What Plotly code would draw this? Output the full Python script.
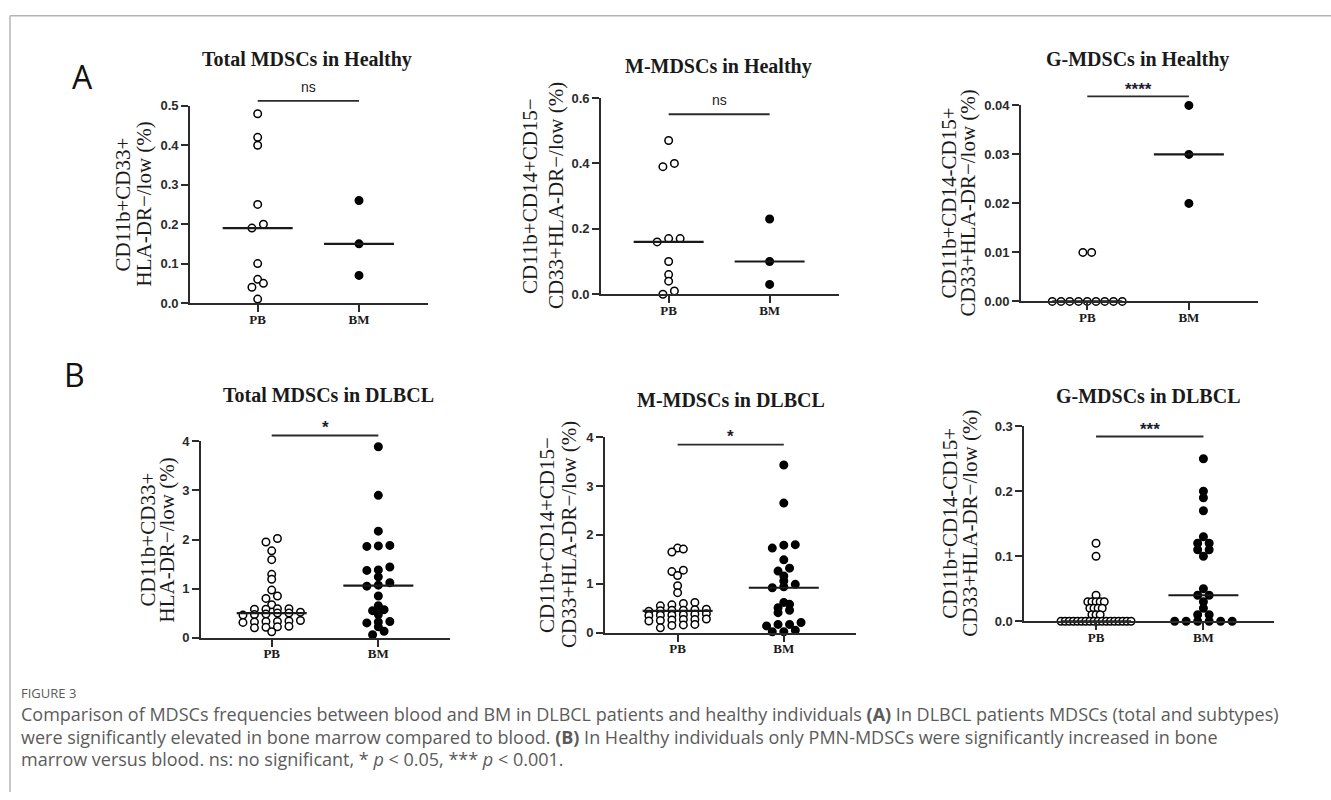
import numpy as np
import plotly.graph_objects as go

W, H = 1331, 800

# ---------------- data ----------------
categories = ["PB", "BM"]

a1_pb = [0.48, 0.42, 0.40, 0.25, 0.20, 0.19, 0.10, 0.06, 0.05, 0.04, 0.01]
a1_bm = [0.26, 0.15, 0.07]

a2_pb = [0.47, 0.40, 0.39, 0.17, 0.17, 0.16, 0.10, 0.06, 0.04, 0.01, 0.00]
a2_bm = [0.23, 0.10, 0.03]

a3_pb = [0.01, 0.01, 0, 0, 0, 0, 0, 0, 0, 0, 0]
a3_bm = [0.04, 0.03, 0.02]

b1_pb = [2.02, 1.95, 1.77, 1.59, 1.29, 1.19, 0.97, 0.85, 0.80, 0.67,
         0.59, 0.59, 0.58, 0.58, 0.52, 0.50, 0.50, 0.48, 0.47, 0.46,
         0.35, 0.34, 0.33, 0.33, 0.32, 0.31, 0.23, 0.22, 0.21, 0.20, 0.12]
b1_bm = [3.89, 2.90, 2.17, 1.88, 1.87, 1.86, 1.44, 1.38, 1.37, 1.24, 1.12,
         1.07, 1.05, 0.85, 0.65, 0.57, 0.55, 0.47, 0.33, 0.32, 0.30, 0.22,
         0.13, 0.06]

b2_pb = [1.73, 1.71, 1.65, 1.28, 1.25, 1.17, 0.96, 0.82, 0.62, 0.60, 0.57,
         0.55, 0.48, 0.47, 0.46, 0.46, 0.45, 0.44, 0.39, 0.38, 0.37, 0.36,
         0.36, 0.35, 0.28, 0.27, 0.27, 0.26, 0.25, 0.24, 0.17, 0.16, 0.15,
         0.10]
b2_bm = [3.43, 2.65, 1.80, 1.79, 1.73, 1.49, 1.32, 1.26, 1.16, 1.06, 0.99,
         0.94, 0.92, 0.62, 0.58, 0.51, 0.46, 0.41, 0.21, 0.17, 0.17, 0.14,
         0.05, 0.02, 0.02]

b3_pb = [0.12, 0.10, 0.04, 0.03, 0.03, 0.03, 0.03, 0.03, 0.02, 0.02, 0.02,
         0.02, 0.01, 0.01, 0.01] + [0.0] * 18
b3_bm = [0.25, 0.20, 0.19, 0.17, 0.13, 0.12, 0.12, 0.11, 0.11, 0.10, 0.05,
         0.04, 0.04, 0.03, 0.02, 0.01, 0.01, 0, 0, 0, 0, 0, 0]

titles = ["Total MDSCs in Healthy", "M-MDSCs in Healthy", "G-MDSCs in Healthy",
          "Total MDSCs in DLBCL", "M-MDSCs in DLBCL", "G-MDSCs in DLBCL"]
ylabels = [("CD11b+CD33+", "HLA-DR−/low (%)"),
           ("CD11b+CD14+CD15−", "CD33+HLA-DR−/low (%)"),
           ("CD11b+CD14-CD15+", "CD33+HLA-DR−/low (%)"),
           ("CD11b+CD33+", "HLA-DR−/low (%)"),
           ("CD11b+CD14+CD15−", "CD33+HLA-DR−/low (%)"),
           ("CD11b+CD14-CD15+", "CD33+HLA-DR−/low (%)")]
significance = ["ns", "ns", "****", "*", "*", "***"]
y_max = [0.5, 0.6, 0.04, 4, 4, 0.3]
y_dtick = [0.1, 0.2, 0.01, 1, 1, 0.1]
y_fmt = [".1f", ".1f", ".2f", "d", "d", ".1f"]
series = [(a1_pb, a1_bm), (a2_pb, a2_bm), (a3_pb, a3_bm),
          (b1_pb, b1_bm), (b2_pb, b2_bm), (b3_pb, b3_bm)]

# ---------------- layout geometry (pixels) ----------------
geom = [
    dict(x=(190, 428), y=(100.7, 301.7), xr=(-0.668, 1.681), lab=(123, 144),
         tt=(307, 53), bar=95.7, st=82, tol=4.5),
    dict(x=(601, 839.3), y=(92.7, 292.7), xr=(-0.67, 1.69), lab=(530, 556),
         tt=(719, 60.5), bar=109.3, st=95, tol=4.5),
    dict(x=(1021, 1258), y=(100.3, 300), xr=(-0.652, 1.68), lab=(949, 968),
         tt=(1137, 53), bar=91, st=81, tol=4.5),
    dict(x=(201, 450), y=(442.7, 642.7), xr=(-0.663, 1.672), lab=(148, 167),
         tt=(328, 395), bar=436.7, st=426, tol=3.8),
    dict(x=(605, 856), y=(438.3, 637.7), xr=(-0.684, 1.68), lab=(547, 569),
         tt=(731, 400.5), bar=446, st=435, tol=3.8),
    dict(x=(1024.3, 1274.3), y=(427.3, 626), xr=(-0.668, 1.66), lab=(950, 970),
         tt=(1148, 396), bar=437.7, st=428, tol=3.8),
]

AX = "#2b2b2b"
SERIF = "Liberation Serif"
SANS = "Liberation Sans"


def pxx(x):
    return x / W


def pxy(y):
    return 1 - y / H


def swarm(vals, ppy, tol, spacing=11.5, max_width=70.0):
    vals = np.asarray(vals, dtype=float)
    order = np.argsort(vals, kind="stable")
    rows, cur, start = [], [], None
    for i in order:
        v = vals[i]
        if cur and (v - start) * ppy < tol:
            cur.append(i)
        else:
            if cur:
                rows.append(cur)
            cur, start = [i], v
    rows.append(cur)
    maxn = max(len(r) for r in rows)
    sp = spacing if maxn <= 1 else min(spacing, max_width / (maxn - 1))
    off = np.zeros(len(vals))
    for r in rows:
        n = len(r)
        for k, i in enumerate(r):
            off[i] = (k - (n - 1) / 2) * sp
    return off


fig = go.Figure()
annotations = []
shapes = []
layout = {}

for i in range(6):
    g = geom[i]
    n = "" if i == 0 else str(i + 1)
    xref, yref = "x" + n, "y" + n
    ppx = (g["x"][1] - g["x"][0]) / (g["xr"][1] - g["xr"][0])
    ppy = (g["y"][1] - g["y"][0]) / y_max[i]

    for ci, vals in enumerate(series[i]):
        off = swarm(vals, ppy, g["tol"])
        xs = ci + off / ppx
        fig.add_trace(go.Scatter(
            x=xs, y=vals, mode="markers", xaxis=xref, yaxis=yref,
            showlegend=False, cliponaxis=False, hoverinfo="skip",
            marker=dict(symbol="circle", size=7.5,
                        color="white" if ci == 0 else "black",
                        line=dict(color="black", width=1.5))))
    for ci, vals in enumerate(series[i]):
        med = float(np.median(vals))
        hw = 35 / ppx
        fig.add_trace(go.Scatter(
            x=[ci - hw, ci + hw], y=[med, med], mode="lines",
            xaxis=xref, yaxis=yref, showlegend=False, cliponaxis=False,
            hoverinfo="skip", line=dict(color="#1a1a1a", width=2.2)))

    layout["xaxis" + n] = dict(
        domain=[pxx(g["x"][0]), pxx(g["x"][1])], range=list(g["xr"]),
        anchor=yref, showgrid=False, zeroline=False, showline=True,
        linecolor=AX, linewidth=1.8, ticks="outside", ticklen=7,
        tickwidth=1.8, tickcolor=AX, tickvals=[0, 1], ticktext=categories,
        ticklabelstandoff=-4,
        tickfont=dict(family=SERIF, size=13, color="#1a1a1a", weight="bold"),
        fixedrange=True)
    layout["yaxis" + n] = dict(
        domain=[pxy(g["y"][1]), pxy(g["y"][0])], range=[0, y_max[i]],
        anchor=xref, showgrid=False, zeroline=False, showline=True,
        linecolor=AX, linewidth=1.8, ticks="outside", ticklen=7,
        tickwidth=1.8, tickcolor=AX, tick0=0, dtick=y_dtick[i],
        tickformat=y_fmt[i],
        tickfont=dict(family=SANS, size=13, color="#2b2b2b", weight="bold"),
        fixedrange=True)

    # panel title
    annotations.append(dict(
        text=titles[i], xref="paper", yref="paper", x=pxx(g["tt"][0]),
        y=pxy(g["tt"][1]), xanchor="center", yanchor="middle",
        showarrow=False,
        font=dict(family=SERIF, size=20, color="#1a1a1a", weight="bold")))
    # y labels (two lines)
    yc = (g["y"][0] + g["y"][1]) / 2
    for li, txt in enumerate(ylabels[i]):
        annotations.append(dict(
            text=txt, xref="paper", yref="paper", x=pxx(g["lab"][li]),
            y=pxy(yc), xanchor="center", yanchor="middle", textangle=-90,
            showarrow=False,
            font=dict(family=SERIF, size=21, color="#1a1a1a")))
    # significance bar
    shapes.append(dict(type="line", xref=xref, yref="paper", x0=0, x1=1,
                       y0=pxy(g["bar"]), y1=pxy(g["bar"]),
                       line=dict(color=AX, width=1.8)))
    sig = significance[i]
    if sig == "ns":
        sfont = dict(family=SANS, size=14, color="#222222")
        sy = g["st"]
    else:
        sfont = dict(family=SANS, size=17, color="#1c1c30", weight="bold")
        sy = g["st"] + 3
    annotations.append(dict(
        text=sig, xref=xref, yref="paper", x=0.5, y=pxy(sy),
        xanchor="center", yanchor="middle", showarrow=False, font=sfont))

# panel letters
for letter, (lx, ly) in [("A", (82, 71)), ("B", (74, 375))]:
    annotations.append(dict(
        text=letter, xref="paper", yref="paper", x=pxx(lx), y=pxy(ly),
        xanchor="center", yanchor="middle", showarrow=False,
        font=dict(family="Open Sans", size=32, color="#111")))

# caption
CAP = "#5b5b5b"
cap_x = 19
annotations.append(dict(
    text="FIGURE 3", xref="paper", yref="paper", x=pxx(cap_x), y=pxy(699),
    xanchor="left", yanchor="middle", showarrow=False,
    font=dict(family="Open Sans", size=13, color=CAP)))
cap_lines = [
    "Comparison of MDSCs frequencies between blood and BM in DLBCL patients and healthy individuals <b>(A)</b> In DLBCL patients MDSCs (total and subtypes)",
    "were significantly elevated in bone marrow compared to blood. <b>(B)</b> In Healthy individuals only PMN-MDSCs were significantly increased in bone",
    "marrow versus blood. ns: no significant, * <i>p</i> &lt; 0.05, *** <i>p</i> &lt; 0.001.",
]
for li, (txt, yy) in enumerate(zip(cap_lines, [721, 744, 766])):
    annotations.append(dict(
        text=txt, xref="paper", yref="paper", x=pxx(cap_x), y=pxy(yy),
        xanchor="left", yanchor="middle", showarrow=False, align="left",
        font=dict(family="Open Sans", size=18, color=CAP)))

# frame
shapes.append(dict(type="line", xref="paper", yref="paper", x0=pxx(10),
                   x1=1, y0=pxy(9), y1=pxy(9),
                   line=dict(color="#b4b4b4", width=1.5)))
shapes.append(dict(type="line", xref="paper", yref="paper", x0=pxx(10),
                   x1=pxx(10), y0=pxy(9), y1=0,
                   line=dict(color="#b4b4b4", width=1.5)))

fig.update_layout(width=W, height=H, margin=dict(l=0, r=0, t=0, b=0),
                  paper_bgcolor="white", plot_bgcolor="white",
                  annotations=annotations, shapes=shapes, **layout)

fig.write_html("out.html")
